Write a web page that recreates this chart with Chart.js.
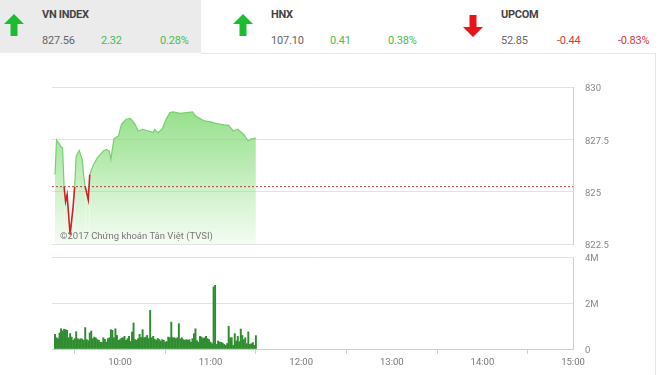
<!DOCTYPE html>
<html>
<head>
<meta charset="utf-8">
<script src="https://cdn.jsdelivr.net/npm/chart.js@4.4.1/dist/chart.umd.min.js"></script>
<style>
  body { margin: 0; background: #fff; font-family: Roboto, Arial, sans-serif; }
  #wrap { position: relative; width: 660px; height: 375px; overflow: hidden; }
  .box { position: absolute; }
  .grey { left: 0; top: 0; width: 201px; height: 53px; background: #ebebeb; }
  .frame { left: 201px; top: 53px; width: 454px; height: 330px; border-top: 1px solid #e6e6e6; border-right: 1px solid #e6e6e6; }
  .name { font-size: 11px; font-weight: bold; color: #444; letter-spacing: -0.3px; }
  .val { font-size: 11px; color: #666; letter-spacing: -0.2px; }
  .up { color: #4cbb4c; }
  .down { color: #d8363c; }
  .mark { position: absolute; left: 60px; top: 230px; font-size: 9.5px; color: #777; }
  .chartbox { position: absolute; left: 0; width: 660px; }
</style>
</head>
<body>
<div id="wrap">
  <div class="box grey"></div>
  <div class="box frame"></div>

  <svg class="box" style="left:4px;top:14px" width="20" height="22" viewBox="0 0 20 22">
    <path d="M10 0 L20 10 L13.5 10 L13.5 22 L6.5 22 L6.5 10 L0 10 Z" fill="#1dbb2f"/></svg>
  <div class="box name" style="left:42px;top:8px">VN INDEX</div>
  <div class="box val" style="left:42px;top:34px">827.56</div>
  <div class="box val up" style="left:101px;top:34px">2.32</div>
  <div class="box val up" style="left:160px;top:34px">0.28%</div>

  <svg class="box" style="left:233px;top:14px" width="20" height="22" viewBox="0 0 20 22">
    <path d="M10 0 L20 10 L13.5 10 L13.5 22 L6.5 22 L6.5 10 L0 10 Z" fill="#1dbb2f"/></svg>
  <div class="box name" style="left:271px;top:8px">HNX</div>
  <div class="box val" style="left:271px;top:34px">107.10</div>
  <div class="box val up" style="left:330px;top:34px">0.41</div>
  <div class="box val up" style="left:388px;top:34px">0.38%</div>

  <svg class="box" style="left:463px;top:15px" width="20" height="22" viewBox="0 0 20 22">
    <path d="M10 22 L20 12 L13.5 12 L13.5 0 L6.5 0 L6.5 12 L0 12 Z" fill="#e8141b"/></svg>
  <div class="box name" style="left:501px;top:8px">UPCOM</div>
  <div class="box val" style="left:501px;top:34px">52.85</div>
  <div class="box val down" style="left:557px;top:34px">-0.44</div>
  <div class="box val down" style="left:618px;top:34px">-0.83%</div>

  <div class="chartbox" style="top:80px;height:172px"><canvas id="priceChart"></canvas></div>
  <div class="chartbox" style="top:250px;height:125px"><canvas id="volChart"></canvas></div>
  <div class="mark">©2017 Chứng khoán Tân Việt (TVSI)</div>
</div>

<script>
// intraday VN-Index, 9:15 - 15:00
const refValue = 825.24; // previous close

const priceTimes = ['09:17', '09:18', '09:20', '09:21', '09:22', '09:23', '09:24', '09:25', '09:27', '09:29',
  '09:30', '09:31', '09:33', '09:35', '09:36', '09:37', '09:39', '09:40', '09:42', '09:45',
  '09:47', '09:49', '09:51', '09:53', '09:54', '09:56', '09:59', '10:01', '10:04', '10:07',
  '10:10', '10:12', '10:15', '10:19', '10:22', '10:23', '10:25', '10:28', '10:30', '10:33',
  '10:35', '10:40', '10:44', '10:48', '10:50', '10:53', '10:56', '11:00', '11:04', '11:09',
  '11:12', '11:15', '11:18', '11:22', '11:25', '11:27', '11:30'];
const priceValues = [825.82, 827.47, 827.26, 827.13, 827.10, 825.24, 824.53, 824.86, 822.95, 824.30,
  825.24, 826.70, 826.97, 826.54, 825.74, 825.24, 824.62, 825.82, 826.22, 826.62,
  826.78, 826.94, 827.02, 826.94, 826.54, 827.53, 827.66, 828.22, 828.46, 828.50,
  828.22, 827.90, 827.98, 827.90, 827.82, 827.98, 827.82, 827.98, 828.38, 828.78,
  828.81, 828.74, 828.78, 828.81, 828.62, 828.50, 828.38, 828.33, 828.25, 828.19,
  828.17, 827.90, 827.98, 827.74, 827.42, 827.53, 827.56];

// volume per minute from 09:17 to 11:30, millions of shares
const volStart = '09:17';
const volValues = [0.64, 0.49, 0.45, 0.70, 0.88, 0.79, 0.86, 0.84, 0.81, 0.49, 0.67, 0.52,
  0.38, 0.45, 0.75, 0.45, 0.41, 0.45, 0.43, 0.38, 0.93, 0.41, 0.36,
  0.70, 0.78, 0.45, 0.52, 0.48, 0.41, 0.38, 0.30, 0.29, 0.49, 0.42,
  0.30, 0.45, 0.49, 0.84, 0.81, 0.49, 0.88, 0.59, 0.38, 0.41, 0.47,
  0.49, 0.55, 0.38, 0.45, 0.55, 0.33, 0.74, 1.13,
  0.41, 0.38, 0.45, 0.64, 0.50, 0.84, 0.49, 0.52, 0.59, 0.45, 1.68,
  0.49, 0.55, 0.43, 0.38, 0.46, 0.41, 0.35, 0.41, 0.38, 0.30, 0.33, 0.52, 0.49, 1.17,
  0.49, 0.49, 0.45, 0.49, 1.10, 0.44, 0.49, 0.41, 0.38, 0.41, 0.38, 0.41, 0.30, 0.45,
  0.67, 0.88, 0.36, 0.30, 0.55, 0.52, 0.45, 0.49, 0.55, 0.45, 0.41, 0.30, 0.23, 2.70,
  2.77, 0.20, 0.35, 0.30, 0.29, 0.26, 0.20, 0.16, 0.24, 0.99, 0.49, 0.49, 0.16, 0.67,
  0.35, 0.55, 0.32, 0.87, 0.59, 0.41, 0.49, 0.23, 0.74, 0.20, 0.23, 0.28, 0.16, 0.58];

const hourTicks = ['10:00', '11:00', '12:00', '13:00', '14:00', '15:00'];
const priceTicks = [822.5, 825, 827.5, 830];
const volTicks = [0, 2, 4];

function toMin(s) {
  const p = s.split(':');
  return +p[0] * 60 + +p[1];
}
function fmtTime(m) {
  const h = Math.floor(m / 60), mm = m % 60;
  return h + ':' + (mm < 10 ? '0' : '') + mm;
}

const xMin = toMin('09:15'), xMax = toMin('15:00');
const tickFont = { family: 'Roboto', size: 9.5 };
const gridColor = '#e2e2e2';
const borderColor = '#cfcfcf';

const pricePoints = priceTimes.map((t, i) => ({ x: toMin(t), y: priceValues[i] }));
const volPoints = volValues.map((v, i) => ({ x: toMin(volStart) + i, y: v }));

function fillGradient(context) {
  const area = context.chart.chartArea;
  if (!area) return 'rgba(120,215,110,0.5)';
  const g = context.chart.ctx.createLinearGradient(0, area.top, 0, area.bottom);
  g.addColorStop(0, 'rgba(118,214,106,0.9)');
  g.addColorStop(0.5, 'rgba(140,222,128,0.6)');
  g.addColorStop(1, 'rgba(160,228,150,0.12)');
  return g;
}

// right axis: fixed width, no extra top/bottom padding from tick labels
function fitRightAxis(s) {
  s.width = 87;
  s.paddingTop = 0;
  s.paddingBottom = 0;
}

const isDown = ctx => ctx.p0.parsed.y < refValue - 0.001 || ctx.p1.parsed.y < refValue - 0.001;

new Chart(document.getElementById('priceChart'), {
  type: 'line',
  data: {
    datasets: [
      {
        data: [{ x: xMin, y: refValue }, { x: xMax, y: refValue }],
        borderColor: '#b2453a',
        borderWidth: 1,
        borderDash: [2, 2],
        pointRadius: 0,
        fill: false,
      },
      {
        data: pricePoints,
        borderColor: '#78d070',
        borderWidth: 1.2,
        pointRadius: 0,
        tension: 0,
        fill: 'start',
        backgroundColor: fillGradient,
        segment: {
          borderColor: ctx => isDown(ctx) ? '#d42020' : '#78d070',
          borderWidth: ctx => isDown(ctx) ? 1.6 : 1.2,
        },
      },
    ],
  },
  options: {
    animation: false,
    responsive: true,
    maintainAspectRatio: false,
    layout: { padding: { left: 52, top: 7, right: 0, bottom: 8 } },
    plugins: { legend: { display: false }, tooltip: { enabled: false } },
    scales: {
      x: { type: 'linear', min: xMin, max: xMax, display: false },
      y: {
        position: 'right',
        min: 822.5,
        max: 830,
        afterFit: fitRightAxis,
        afterBuildTicks: s => { s.ticks = priceTicks.map(v => ({ value: v })); },
        grid: { color: gridColor, drawTicks: false },
        border: { display: true, color: borderColor },
        ticks: { font: tickFont, color: '#888', padding: 12, labelOffset: 2, callback: v => String(v) },
      },
    },
  },
});

new Chart(document.getElementById('volChart'), {
  type: 'bar',
  data: {
    datasets: [{
      data: volPoints,
      backgroundColor: '#2f8c2f',
      barThickness: 1.3,
    }],
  },
  options: {
    animation: false,
    responsive: true,
    maintainAspectRatio: false,
    layout: { padding: { left: 52, top: 7, right: 0, bottom: 0 } },
    plugins: { legend: { display: false }, tooltip: { enabled: false } },
    scales: {
      x: {
        type: 'linear',
        min: xMin,
        max: xMax,
        offset: false,
        afterFit: s => { s.height = 26; },
        afterBuildTicks: s => { s.ticks = hourTicks.map(t => ({ value: toMin(t) })); },
        grid: { drawOnChartArea: false, color: borderColor, tickLength: 5 },
        border: { display: true, color: borderColor },
        ticks: { font: tickFont, color: '#777', padding: 3, maxRotation: 0, callback: v => fmtTime(v) },
      },
      y: {
        position: 'right',
        min: 0,
        max: 4,
        afterFit: fitRightAxis,
        afterBuildTicks: s => { s.ticks = volTicks.map(v => ({ value: v })); },
        grid: { color: gridColor, drawTicks: false },
        border: { display: true, color: borderColor },
        ticks: { font: tickFont, color: '#888', padding: 12, labelOffset: 2, callback: v => v === 0 ? '0' : v + 'M' },
      },
    },
  },
});
</script>
</body>
</html>
